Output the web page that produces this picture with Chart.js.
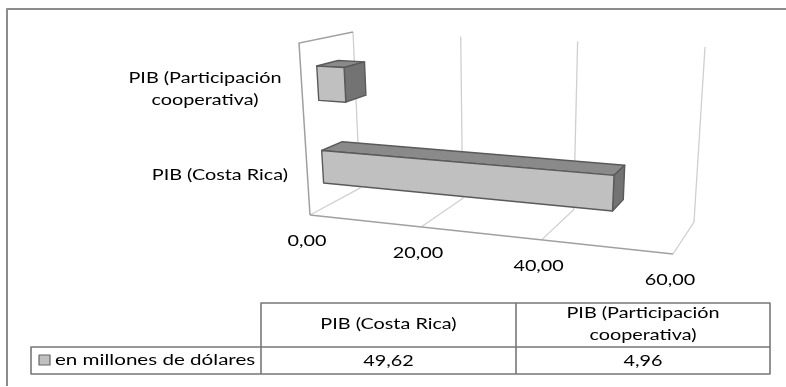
<!DOCTYPE html>
<html>
<head>
<meta charset="utf-8">
<title>PIB</title>
<script src="https://cdn.jsdelivr.net/npm/chart.js@4/dist/chart.umd.min.js"></script>
<style>
	html, body { margin: 0; padding: 0; background: #fff; }
	canvas { display: block; }
</style>
</head>
<body>
<canvas id="myChart" width="786" height="387"></canvas>
<script>
const categories = ["PIB (Costa Rica)", "PIB (Participación cooperativa)"];
const categoryLines = [["PIB (Costa Rica)"], ["PIB (Participación", "cooperativa)"]];
const seriesName = "en millones de dólares";
const seriesValues = [49.62, 4.96];
const valueLabels = ["49,62", "4,96"];
const tickValues = [0, 20, 40, 60];
const tickLabels = ["0,00", "20,00", "40,00", "60,00"];

const FONT = "Lato, sans-serif";
const STRETCH = 1.32;

// unit square to quad, used for the front and back planes of the 3d box
function quadMap(p0, p1, p2, p3) {
	const dx1 = p1[0] - p2[0], dx2 = p3[0] - p2[0], sx = p0[0] - p1[0] + p2[0] - p3[0];
	const dy1 = p1[1] - p2[1], dy2 = p3[1] - p2[1], sy = p0[1] - p1[1] + p2[1] - p3[1];
	const den = dx1 * dy2 - dx2 * dy1;
	const g = (sx * dy2 - dx2 * sy) / den;
	const h = (dx1 * sy - sx * dy1) / den;
	const a = p1[0] - p0[0] + g * p1[0], b = p3[0] - p0[0] + h * p3[0];
	const d = p1[1] - p0[1] + g * p1[1], e = p3[1] - p0[1] + h * p3[1];
	return (u, v) => {
		const w = g * u + h * v + 1;
		return [(a * u + b * v + p0[0]) / w, (d * u + e * v + p0[1]) / w];
	};
}

const frontPlane = quadMap([299, 43], [686, 60], [673, 254], [310, 215]);
const backPlane = quadMap([353, 32], [705, 47], [694, 222], [360, 188]);

function project(u, v, w) {
	const f = frontPlane(u, v), b = backPlane(u, v);
	return [f[0] + (b[0] - f[0]) * w, f[1] + (b[1] - f[1]) * w];
}

function strokePath(ctx, points, color, width) {
	ctx.beginPath();
	points.forEach((p, i) => i ? ctx.lineTo(p[0], p[1]) : ctx.moveTo(p[0], p[1]));
	ctx.strokeStyle = color;
	ctx.lineWidth = width;
	ctx.stroke();
}

function fillFace(ctx, points, color) {
	ctx.beginPath();
	points.forEach((p, i) => i ? ctx.lineTo(p[0], p[1]) : ctx.moveTo(p[0], p[1]));
	ctx.closePath();
	ctx.fillStyle = color;
	ctx.fill();
	ctx.strokeStyle = "#5a5a5a";
	ctx.lineWidth = 1.4;
	ctx.lineJoin = "round";
	ctx.stroke();
}

// centred text widened like the rest of the chart's lettering
function wideText(ctx, text, cx, y, size, align) {
	ctx.save();
	ctx.font = size + "px " + FONT;
	ctx.fillStyle = "#000";
	ctx.textBaseline = "alphabetic";
	ctx.textAlign = align || "center";
	ctx.translate(cx, y);
	ctx.scale(STRETCH, 1);
	ctx.fillText(text, 0, 0);
	ctx.restore();
}

const box3d = {
	id: "box3d",
	beforeDatasetsDraw(chart) {
		const ctx = chart.ctx;
		const x = chart.scales.x;
		const area = chart.chartArea;
		const toU = px => (px - area.left) / (area.right - area.left);
		const toV = py => (py - area.top) / (area.bottom - area.top);

		// walls and floor
		tickValues.forEach(val => {
			const u = toU(x.getPixelForValue(val));
			strokePath(ctx, [project(u, 1, 0), project(u, 1, 1), project(u, 0, 1)], "#cfcfcf", 1.3);
		});
		strokePath(ctx, [project(0, 1, 0), project(1, 1, 0)], "#a0a0a0", 1.4);
		strokePath(ctx, [project(0, 1, 0), project(0, 0, 0), project(0, 0, 1)], "#a0a0a0", 1.5);

		// bars, through the same projection
		const meta = chart.getDatasetMeta(0);
		const order = meta.data.map((bar, i) => i).sort((a, b) => meta.data[a].y - meta.data[b].y);
		order.forEach(i => {
			const bar = meta.data[i];
			const u0 = toU(bar.base), u1 = toU(bar.x);
			const v0 = toV(bar.y - bar.height / 2), v1 = toV(bar.y + bar.height / 2);
			const w0 = 0.3, w1 = 0.7;
			fillFace(ctx, [project(u0, v0, w0), project(u1, v0, w0), project(u1, v0, w1), project(u0, v0, w1)], "#8a8a8a");
			fillFace(ctx, [project(u1, v0, w0), project(u1, v1, w0), project(u1, v1, w1), project(u1, v0, w1)], "#737373");
			fillFace(ctx, [project(u0, v0, w0), project(u1, v0, w0), project(u1, v1, w0), project(u0, v1, w0)], "#c0c0c0");
		});
		return false;
	},
	afterDraw(chart) {
		const ctx = chart.ctx;
		const x = chart.scales.x;
		const y = chart.scales.y;
		const area = chart.chartArea;

		// outer frame, top and left only
		strokePath(ctx, [[7, 386], [7, 9], [786, 9]], "#8c8c8c", 2);

		// value axis labels sit under the floor edge
		tickValues.forEach((val, i) => {
			const u = (x.getPixelForValue(val) - area.left) / (area.right - area.left);
			const p = project(u, 1, 0);
			wideText(ctx, tickLabels[i], p[0] - 3, p[1] + 31, 15);
		});

		// category labels
		categoryLines.forEach((lines, i) => {
			const v = (y.getPixelForValue(i) - area.top) / (area.bottom - area.top);
			const p = project(0, v, 0);
			if (lines.length === 1) {
				wideText(ctx, lines[0], 288, p[1] + 6, 15, "right");
			} else {
				wideText(ctx, lines[0], 205, p[1] - 5, 15);
				wideText(ctx, lines[1], 205, p[1] + 17, 15);
			}
		});

		// data table
		const colX = [31, 261, 516, 770];
		const rowY = [303, 347, 374];
		strokePath(ctx, [[colX[1], rowY[1]], [colX[1], rowY[0]], [colX[3], rowY[0]], [colX[3], rowY[2]], [colX[0], rowY[2]], [colX[0], rowY[1]], [colX[3], rowY[1]]], "#777", 1.6);
		strokePath(ctx, [[colX[1], rowY[1]], [colX[1], rowY[2]]], "#777", 1.6);
		strokePath(ctx, [[colX[2], rowY[0]], [colX[2], rowY[2]]], "#777", 1.6);

		const c0 = (colX[1] + colX[2]) / 2, c1 = (colX[2] + colX[3]) / 2;
		wideText(ctx, categoryLines[0][0], c0, 329, 15);
		wideText(ctx, categoryLines[1][0], c1, 318, 15);
		wideText(ctx, categoryLines[1][1], c1, 340, 15);
		wideText(ctx, valueLabels[0], c0, 366, 15);
		wideText(ctx, valueLabels[1], c1, 366, 15);

		ctx.fillStyle = "#c0c0c0";
		ctx.strokeStyle = "#666";
		ctx.lineWidth = 1.2;
		ctx.fillRect(39, 355, 11, 10);
		ctx.strokeRect(39, 355, 11, 10);
		wideText(ctx, seriesName, 55, 365, 15.6, "left");
	}
};

const data = {
	labels: categories,
	datasets: [{
		label: seriesName,
		data: seriesValues,
		backgroundColor: "#c0c0c0",
		barPercentage: 0.4,
		categoryPercentage: 1
	}]
};

const config = {
	type: "bar",
	data: data,
	options: {
		indexAxis: "y",
		responsive: false,
		animation: false,
		layout: { padding: { left: 300, right: 80, top: 40, bottom: 130 } },
		plugins: {
			legend: { display: false },
			tooltip: { enabled: false }
		},
		scales: {
			x: {
				min: 0,
				max: 60,
				ticks: { display: false, stepSize: 20 },
				grid: { display: false },
				border: { display: false }
			},
			y: {
				reverse: true,
				ticks: { display: false },
				grid: { display: false },
				border: { display: false }
			}
		}
	},
	plugins: [box3d]
};

let ctx = document.getElementById("myChart").getContext("2d");
new Chart(ctx, config);
</script>
</body>
</html>
